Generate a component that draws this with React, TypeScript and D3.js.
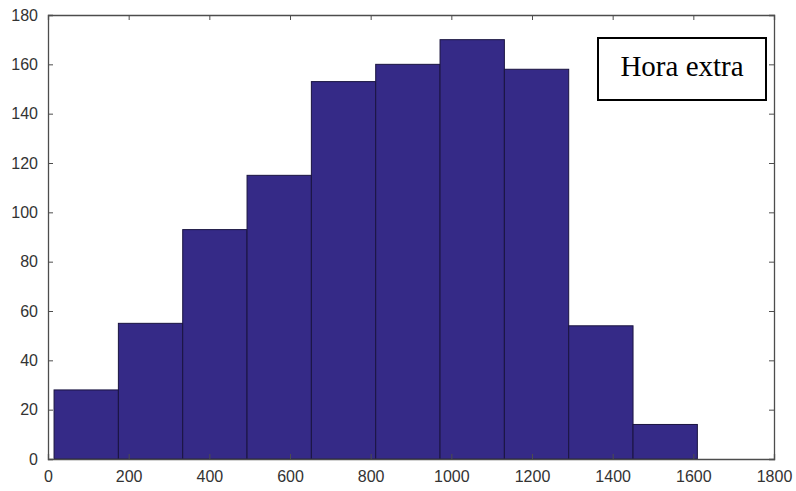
import React, { useEffect, useRef } from 'react';
import * as d3 from 'd3';

// histogram bins (start of first bin, width of each bin) and counts
const binStart = 15;
const binWidth = 159.5;
const counts = [28, 55, 93, 115, 153, 160, 170, 158, 54, 14];
const xTicks = [0, 200, 400, 600, 800, 1000, 1200, 1400, 1600, 1800];
const yTicks = [0, 20, 40, 60, 80, 100, 120, 140, 160, 180];
const legendLabel = 'Hora extra';

const width = 796;
const height = 491;
const margin = { top: 15, right: 22, bottom: 32, left: 48 };

const App = () => {
  const svgRef = useRef<SVGSVGElement>(null);

  useEffect(() => {
    const svg = d3.select(svgRef.current);
    svg.selectAll('*').remove();

    const innerWidth = width - margin.left - margin.right;
    const innerHeight = height - margin.top - margin.bottom;

    const g = svg.append('g')
      .attr('transform', `translate(${margin.left},${margin.top})`);

    const x = d3.scaleLinear().domain([0, 1800]).range([0, innerWidth]);
    const y = d3.scaleLinear().domain([0, 180]).range([innerHeight, 0]);

    const bins = counts.map((c, i) => ({
      x0: binStart + i * binWidth,
      x1: binStart + (i + 1) * binWidth,
      count: c,
    }));

    // bars
    g.selectAll('.bar')
      .data(bins)
      .enter()
      .append('rect')
      .attr('class', 'bar')
      .attr('x', d => x(d.x0))
      .attr('y', d => y(d.count))
      .attr('width', d => x(d.x1) - x(d.x0))
      .attr('height', d => y(0) - y(d.count))
      .style('fill', '#352a87')
      .style('stroke', '#1a1440')
      .style('stroke-width', 1);

    const axisColor = '#4d4d4d';
    const tickColor = '#333';
    const fmt = d3.format('d');

    // axes: ticks pointing inward, labels outside
    const bottom = g.append('g')
      .attr('transform', `translate(0,${innerHeight})`)
      .call(d3.axisBottom(x).tickValues(xTicks).tickSize(-5).tickPadding(12).tickFormat(fmt));
    const left = g.append('g')
      .call(d3.axisLeft(y).tickValues(yTicks).tickSize(-5).tickPadding(10).tickFormat(fmt));
    const top = g.append('g')
      .call(d3.axisTop(x).tickValues(xTicks).tickSize(-5).tickFormat(() => ''));
    const right = g.append('g')
      .attr('transform', `translate(${innerWidth},0)`)
      .call(d3.axisRight(y).tickValues(yTicks).tickSize(-5).tickFormat(() => ''));

    [bottom, left, top, right].forEach(ax => {
      ax.attr('font-size', 16).attr('font-family', 'Liberation Sans, Arial, sans-serif');
      ax.select('.domain').attr('stroke', axisColor).attr('stroke-width', 1.3);
      ax.selectAll('.tick line').attr('stroke', axisColor);
      ax.selectAll('.tick text').style('fill', tickColor);
    });

    // legend box
    const box = svg.append('g').attr('transform', 'translate(598,38)');
    box.append('rect')
      .attr('width', 168)
      .attr('height', 62)
      .style('fill', 'white')
      .style('stroke', 'black')
      .style('stroke-width', 2);
    box.append('text')
      .attr('x', 84)
      .attr('y', 38)
      .attr('text-anchor', 'middle')
      .style('font-family', 'Liberation Serif, Times New Roman, serif')
      .style('font-size', '29px')
      .style('fill', 'black')
      .text(legendLabel);
  }, []);

  return (
    <svg
      ref={svgRef}
      width={width}
      height={height}
      style={{ position: 'absolute', left: 0, top: 0, background: 'white' }}
    />
  );
};

export default App;
